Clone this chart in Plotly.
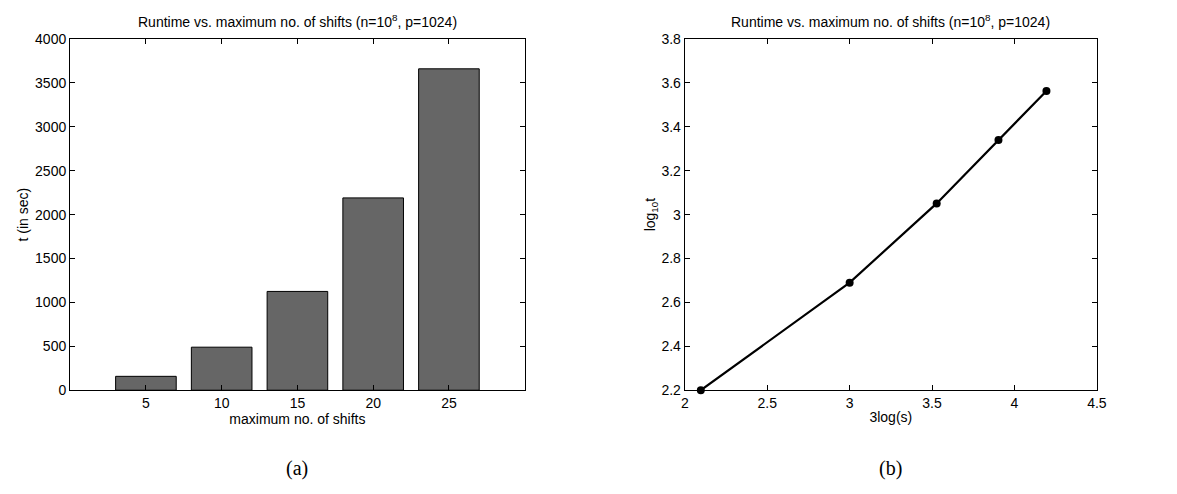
import plotly.graph_objects as go

# Data
shifts = [5, 10, 15, 20, 25]
runtime_sec = [158, 490, 1125, 2190, 3660]
three_log_s = [2.097, 3.0, 3.528, 3.903, 4.194]
log10_t = [2.2, 2.690, 3.051, 3.340, 3.563]

title_text = "Runtime vs. maximum no. of shifts (n=10<sup>8</sup>, p=1024)"
font_family = "Liberation Sans, Arial, sans-serif"
FS = 14

fig = go.Figure()

fig.add_trace(go.Bar(
    x=shifts, y=runtime_sec, width=4,
    marker=dict(color="#666666", line=dict(color="black", width=1)),
    xaxis="x", yaxis="y", showlegend=False,
))

fig.add_trace(go.Scatter(
    x=three_log_s, y=log10_t, mode="lines+markers",
    line=dict(color="black", width=2.2),
    marker=dict(color="black", size=8),
    xaxis="x2", yaxis="y2", showlegend=False, cliponaxis=False,
))

ax_common = dict(
    showline=True, linecolor="black", linewidth=1.3, mirror="ticks",
    ticks="inside", ticklen=5, tickcolor="black", tickwidth=1,
    showgrid=False, zeroline=False,
    tickfont=dict(family=font_family, size=FS, color="black"),
    title_font=dict(family=font_family, size=FS, color="black"),
)

ydom = [0.2004, 0.9352]
xdom1 = [0.0569, 0.4477]
xdom2 = [0.5854, 0.9397]

fig.update_layout(
    width=1177, height=494,
    margin=dict(l=0, r=0, t=0, b=0),
    paper_bgcolor="white", plot_bgcolor="white",
    font=dict(family=font_family, size=FS, color="black"),
    xaxis=dict(domain=xdom1, range=[0, 30],
               tickvals=shifts, anchor="y",
               title=dict(text="maximum no. of shifts", standoff=2), **ax_common),
    yaxis=dict(domain=ydom, range=[0, 4000], dtick=500, anchor="x",
               title=dict(text="t (in sec)", standoff=3), **ax_common),
    xaxis2=dict(domain=xdom2, range=[2, 4.5], dtick=0.5, anchor="y2",
                title=dict(text="3log(s)", standoff=2), **ax_common),
    yaxis2=dict(domain=ydom, range=[2.2, 3.8], dtick=0.2, anchor="x2",
                title=dict(text="log<sub>10</sub>t", standoff=2), **ax_common),
)

annos = []
for dom, cap in [(xdom1, "(a)"), (xdom2, "(b)")]:
    cx = (dom[0] + dom[1]) / 2
    annos.append(dict(text=title_text, x=cx, y=1 - 13 / 494, xref="paper", yref="paper",
                      xanchor="center", yanchor="middle", showarrow=False,
                      font=dict(family=font_family, size=FS, color="black")))
    annos.append(dict(text=cap, x=cx, y=1 - 476 / 494, xref="paper", yref="paper",
                      xanchor="center", yanchor="middle", showarrow=False,
                      font=dict(family="Liberation Serif, DejaVu Serif, serif", size=20, color="black")))
fig.update_layout(annotations=annos)

fig.write_html("out.html")
